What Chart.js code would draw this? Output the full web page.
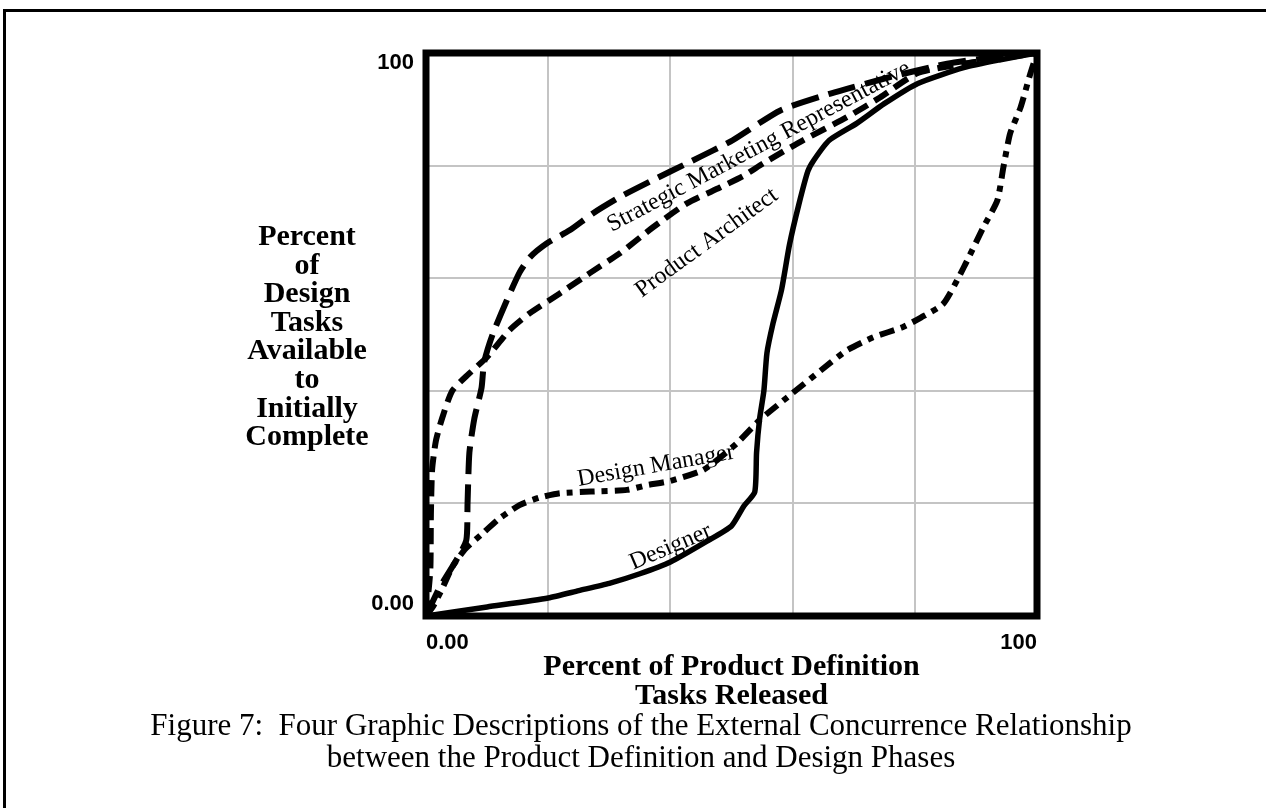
<!DOCTYPE html>
<html lang="en">
<head>
  <meta charset="UTF-8">
  <title>Figure 7 - External Concurrence Relationship</title>
  <script src="https://cdn.jsdelivr.net/npm/chart.js"></script>
  <style>
    html, body { margin: 0; padding: 0; background: #fff; overflow: hidden; }
    .frame {
      position: absolute; left: 3px; top: 9px; width: 1400px; height: 900px;
      border-top: 3px solid #000; border-left: 3px solid #000;
    }
    #chart { position: absolute; left: 0; top: 0; }
  </style>
</head>
<body>
  <div class="frame"></div>
  <canvas id="chart" width="1266" height="808"></canvas>

  <script>
    // grid / ticks
    const gridValues = [0, 20, 40, 60, 80, 100];
    const xTickLabels = { 0: '0.00', 100: '100' };
    const yTickLabels = { 0: '0.00', 100: '100' };

    const xTitle = ['Percent of Product Definition', 'Tasks Released'];
    const yTitle = ['Percent', 'of', 'Design', 'Tasks', 'Available', 'to', 'Initially', 'Complete'];
    const caption = [
      'Figure 7:  Four Graphic Descriptions of the External Concurrence Relationship',
      'between the Product Definition and Design Phases'
    ];

    // curves (percent released -> percent available)
    const designerX = [0, 10, 20, 25, 30, 35, 40, 46, 50, 52, 53.8, 54.1, 54.6, 55.3, 55.8, 56.8, 58.2, 59.5, 61, 62.5, 63.5, 66, 70.5, 75, 80.5, 88, 94, 100];
    const designerY = [0, 1.6, 3.2, 4.5, 5.8, 7.5, 9.6, 13.3, 16, 19.5, 22, 29, 35, 40, 46.7, 52, 58, 66, 73, 79, 81, 84.5, 87.5, 91, 94.6, 97.4, 98.8, 100];

    const managerX = [0, 1.1, 2.5, 4.3, 6.5, 9.3, 12, 15.3, 18.5, 21.9, 27, 32.9, 36, 40, 45.3, 48, 50.9, 54.6, 60, 66.1, 68.9, 73.2, 78, 81, 84.7, 88, 91.2, 93.5, 94.5, 95.6, 97.3, 98.9, 100];
    const managerY = [0, 1.6, 4.5, 8.7, 12, 14.7, 17.3, 19.7, 21, 21.8, 22.1, 22.4, 23.2, 24, 25.9, 28, 30.7, 34.8, 39.6, 44.9, 47.2, 49.5, 51.3, 53, 55.5, 61.9, 69, 73.8, 79.7, 85.7, 90.3, 96.3, 100];

    const architectX = [0, 0.7, 0.8, 1.0, 1.6, 2.6, 4.3, 7, 10, 13.7, 17, 21.9, 26.8, 31.7, 37.1, 42.7, 48.1, 52, 55.2, 61.7, 68.9, 74.3, 80.4, 88, 94, 100];
    const architectY = [0, 8, 18, 26, 31, 35, 40, 43, 46, 50.8, 53.8, 57.3, 60.9, 64.4, 69, 73.3, 76.1, 78.2, 80.4, 84.5, 88.6, 92.1, 96.4, 98.1, 99, 100];

    const marketingX = [0, 2.2, 5, 6.6, 6.8, 7.1, 7.9, 9.1, 9.5, 10.9, 13.2, 15.3, 17, 19.8, 23.5, 27.3, 31.7, 37.1, 42.7, 47, 50.2, 58, 66.2, 75.5, 85.3, 92.4, 100];
    const marketingY = [0, 5, 10, 13.5, 20, 29, 35, 40.6, 45, 50, 56, 61, 63.7, 66.2, 68.5, 71.5, 74.4, 77.4, 80.4, 82.7, 84.5, 89.8, 92.8, 95.6, 98.1, 99.2, 100];

    // curve labels: text, anchor (data units, baseline start), angle in degrees
    const curveLabels = [
      { text: 'Strategic Marketing Representative', x: 30.4, y: 68.2, angle: -28 },
      { text: 'Product Architect', x: 35.3, y: 56.5, angle: -36 },
      { text: 'Design Manager', x: 25.0, y: 23.1, angle: -10 },
      { text: 'Designer', x: 33.9, y: 8.2, angle: -23 }
    ];

    function toPoints(xs, ys) {
      return xs.map((x, i) => ({ x: x, y: ys[i] }));
    }

    function series(data, dash, width) {
      return {
        data: data,
        borderColor: '#000',
        borderWidth: width,
        borderDash: dash,
        borderCapStyle: 'butt',
        pointRadius: 0,
        tension: 0.2,
        fill: false
      };
    }

    // heavy box around the plot
    const plotBox = {
      id: 'plotBox',
      afterDatasetsDraw(chart) {
        const { ctx, chartArea: a } = chart;
        ctx.save();
        ctx.lineWidth = 7;
        ctx.strokeStyle = '#000';
        ctx.strokeRect(a.left, a.top, a.right - a.left, a.bottom - a.top);
        ctx.restore();
      }
    };

    // curve labels, horizontal y title and figure caption
    const textLayer = {
      id: 'textLayer',
      afterDraw(chart) {
        const { ctx, chartArea: a, scales } = chart;
        ctx.save();
        ctx.fillStyle = '#000';

        ctx.font = '24px "Liberation Serif", "Times New Roman", serif';
        ctx.textAlign = 'left';
        ctx.textBaseline = 'alphabetic';
        curveLabels.forEach(l => {
          ctx.save();
          ctx.translate(scales.x.getPixelForValue(l.x), scales.y.getPixelForValue(l.y));
          ctx.rotate(l.angle * Math.PI / 180);
          ctx.fillText(l.text, 0, 0);
          ctx.restore();
        });

        ctx.font = 'bold 30px "Liberation Serif", "Times New Roman", serif';
        ctx.textAlign = 'center';
        yTitle.forEach((line, i) => {
          ctx.fillText(line, a.left - 119, a.top + 192 + i * 28.6);
        });

        ctx.font = '31px "Liberation Serif", "Times New Roman", serif';
        ctx.textBaseline = 'middle';
        caption.forEach((line, i) => {
          ctx.fillText(line, 641, 727 + i * 32);
        });
        ctx.restore();
      }
    };

    const tickFont = { family: 'Liberation Sans', weight: 'bold', size: 22 };

    new Chart(document.getElementById('chart'), {
      type: 'line',
      data: {
        datasets: [
          series(toPoints(designerX, designerY), [], 5.5),
          series(toPoints(managerX, managerY), [15, 7, 6, 7], 6),
          series(toPoints(architectX, architectY), [16, 8], 6),
          series(toPoints(marketingX, marketingY), [28, 10], 6)
        ]
      },
      options: {
        responsive: false,
        animation: false,
        layout: { padding: { left: 326, right: 229, top: 53, bottom: 97 } },
        plugins: {
          legend: { display: false },
          tooltip: { enabled: false }
        },
        scales: {
          x: {
            type: 'linear',
            min: 0,
            max: 100,
            afterBuildTicks: s => { s.ticks = gridValues.map(v => ({ value: v })); },
            afterFit: s => { s.height = 95; },
            grid: { color: '#c4c4c4', lineWidth: 2, drawTicks: false },
            border: { display: false },
            ticks: {
              autoSkip: false,
              maxRotation: 0,
              align: 'inner',
              padding: 14,
              color: '#000',
              font: tickFont,
              callback: v => xTickLabels[v] ?? ''
            },
            title: {
              display: true,
              text: xTitle,
              color: '#000',
              padding: 0,
              font: { family: 'Liberation Serif', weight: 'bold', size: 30, lineHeight: 0.97 }
            }
          },
          y: {
            type: 'linear',
            min: 0,
            max: 100,
            afterBuildTicks: s => { s.ticks = gridValues.map(v => ({ value: v })); },
            afterFit: s => { s.width = 100; },
            grid: { color: '#c4c4c4', lineWidth: 2, drawTicks: false },
            border: { display: false },
            ticks: {
              autoSkip: false,
              padding: 12,
              color: '#000',
              // the top label hangs below its tick, the bottom one sits above it
              font: c => Object.assign({}, tickFont, { lineHeight: c.tick && c.tick.value === 100 ? '19px' : '25px' }),
              callback: v => {
                if (v === 100) return ['', yTickLabels[v]];
                if (v === 0) return [yTickLabels[v], ''];
                return '';
              }
            }
          }
        }
      },
      plugins: [plotBox, textLayer]
    });
  </script>
</body>
</html>
